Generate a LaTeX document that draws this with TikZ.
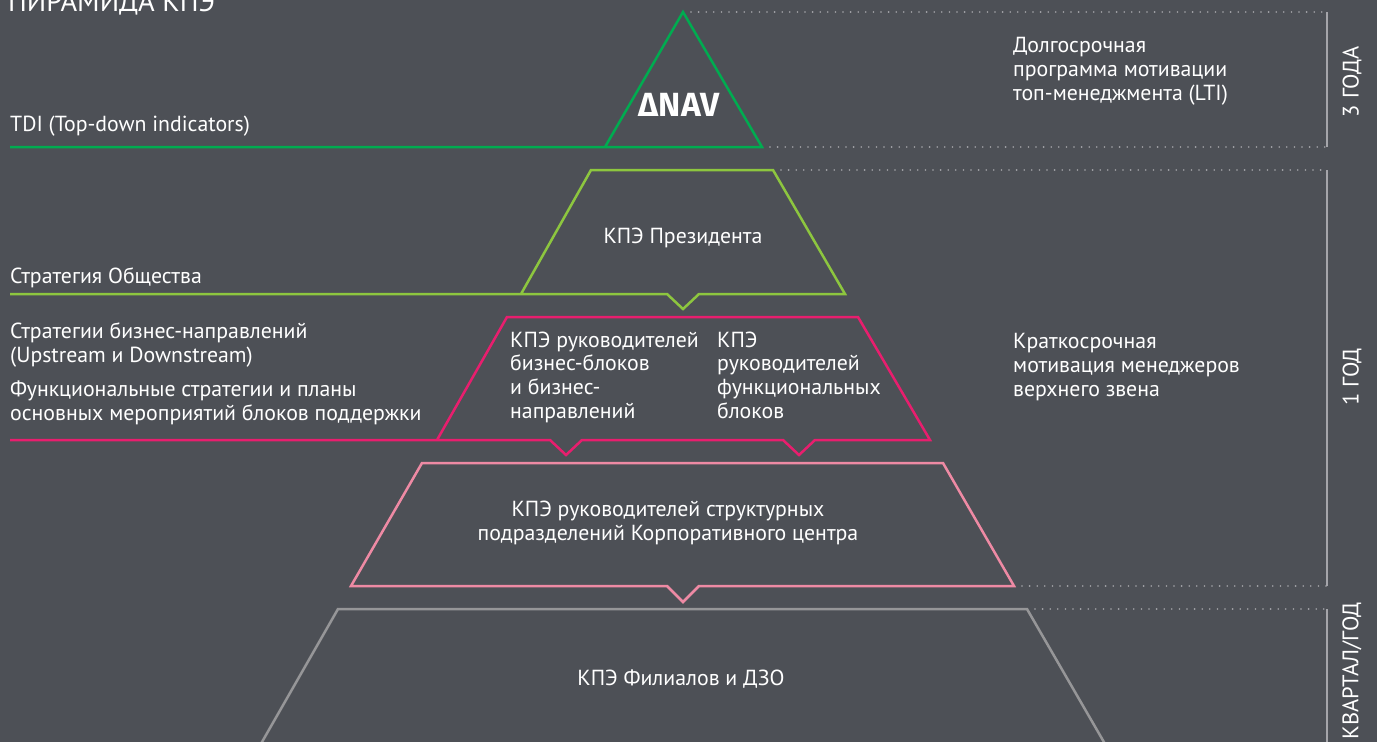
\documentclass[tikz,border=0pt]{standalone}
\usepackage{fontspec}
\setmainfont{PT Sans}
\newfontfamily\deltafont{Fira Sans}
\usetikzlibrary{positioning}
\definecolor{slate}{RGB}{77,80,86}
\definecolor{emerald}{RGB}{0,172,80}
\definecolor{lime}{RGB}{141,198,63}
\definecolor{raspberry}{RGB}{232,30,110}
\definecolor{blush}{RGB}{238,138,164}
\definecolor{stone}{RGB}{150,150,152}
\definecolor{bracketgray}{RGB}{165,165,170}
\tikzset{
  tier/.style={draw=#1,line width=2.5pt,line join=miter},
  tier/.default=stone,
  dotrule/.style={draw=bracketgray,line width=1.8pt,line cap=round,dash pattern=on 0pt off 7.6pt},
  spanbar/.style={draw=bracketgray,line width=2pt},
  txt/.style={text=white,font=\fontsize{21.8}{23.6}\selectfont,inner sep=0pt,align=left,anchor=base west},
  midtxt/.style={text=white,font=\fontsize{21.8}{23.6}\selectfont,inner sep=0pt,align=center,anchor=base},
  period/.style={text=white,font=\fontsize{22.5}{24}\selectfont,inner sep=0pt,rotate=90},
}
\begin{document}
\begin{tikzpicture}[x=1pt,y=-1pt]
  \useasboundingbox (0,0) rectangle (1377,742);
  \clip (0,0) rectangle (1377,742);
  \fill[slate] (0,0) rectangle (1377,742);
  % corners of the tiers
  \coordinate (apex) at (683,12);
  \coordinate (navR) at (762,147);
  \coordinate (presR) at (773,170);
  \coordinate (corpR) at (1014,586);
  \coordinate (dzoR) at (1027,609);
  % pyramid
  \draw[tier=emerald] (10,147) -- (navR) -- (apex) -- (605,147);
  \draw[tier=lime] (10,294) -- (667,294) -- (683,309) -- (699,294) -- (845,294) -- (presR) -- (591,170) -- (521,294);
  \draw[tier=raspberry] (10,440) -- (550,440) -- (566,455) -- (582,440) -- (783,440) -- (799,455) -- (815,440) -- (930,440) -- (858,317) -- (507,317) -- (437,440);
  \draw[tier=blush] (corpR) -- (699,586) -- (683,602) -- (667,586) -- (351,586) -- (422,463) -- (943,463) -- cycle;
  \draw[tier] (254,756) -- (338,609) -- (dzoR) -- (1112,756);
  % period brackets
  \coordinate (b1) at (1327,12);  \coordinate (b2) at (1327,147);
  \coordinate (b3) at (1327,170); \coordinate (b4) at (1327,586);
  \coordinate (b5) at (1327,609); \coordinate (b6) at (1327,760);
  \draw[dotrule] (apex) ++(8,0) -- (b1);
  \draw[dotrule] (navR) ++(8,0) -- (b2);
  \draw[dotrule] (presR) ++(8,0) -- (b3);
  \draw[dotrule] (corpR) ++(8,0) -- (b4);
  \draw[dotrule] (dzoR) ++(8,0) -- (b5);
  \draw[spanbar] (b1) -- (b2);
  \draw[spanbar] (b3) -- (b4);
  \draw[spanbar] (b5) -- (b6);
  \node[period] (y3) at (1352,82) {3 ГОДА};
  \node[period] (y1) at (1352,377) {1 ГОД};
  \node[period] (yq) at (1352,671) {КВАРТАЛ/ГОД};
  % texts
  \node[txt,font=\fontsize{28.5}{30}\selectfont] (title) at (8,11) {ПИРАМИДА КПЭ};
  \node[txt] (tdi) at (10,131) {TDI (Top-down indicators)};
  \node[txt] (strat) at (10,283) {Стратегия Общества};
  \node[txt] (bizstrat) at (10,362) {Стратегии бизнес-направлений\\(Upstream и Downstream)};
  \node[txt] (funcstrat) at (10,420) {Функциональные стратегии и планы\\основных мероприятий блоков поддержки};
  \node[text=white,font=\deltafont\fontsize{33.5}{36}\selectfont\bfseries,inner sep=0pt,anchor=base] (nav) at (679,116) {ΔNAV};
  \node[midtxt] (pres) at (683,243) {КПЭ Президента};
  \node[txt] (bizkpi) at (510,418) {КПЭ руководителей\\бизнес-блоков\\и бизнес-\\направлений};
  \node[txt] (funckpi) at (717,418) {КПЭ\\руководителей\\функциональных\\блоков};
  \node[midtxt] (corp) at (668,540) {КПЭ руководителей структурных\\подразделений Корпоративного центра};
  \node[midtxt] (dzo) at (681,685) {КПЭ Филиалов и ДЗО};
  \node[txt] (lti) at (1013,100) {Долгосрочная\\программа мотивации\\топ-менеджмента (LTI)};
  \node[txt] (sti) at (1013,396) {Краткосрочная\\мотивация менеджеров\\верхнего звена};
\end{tikzpicture}
\end{document}
